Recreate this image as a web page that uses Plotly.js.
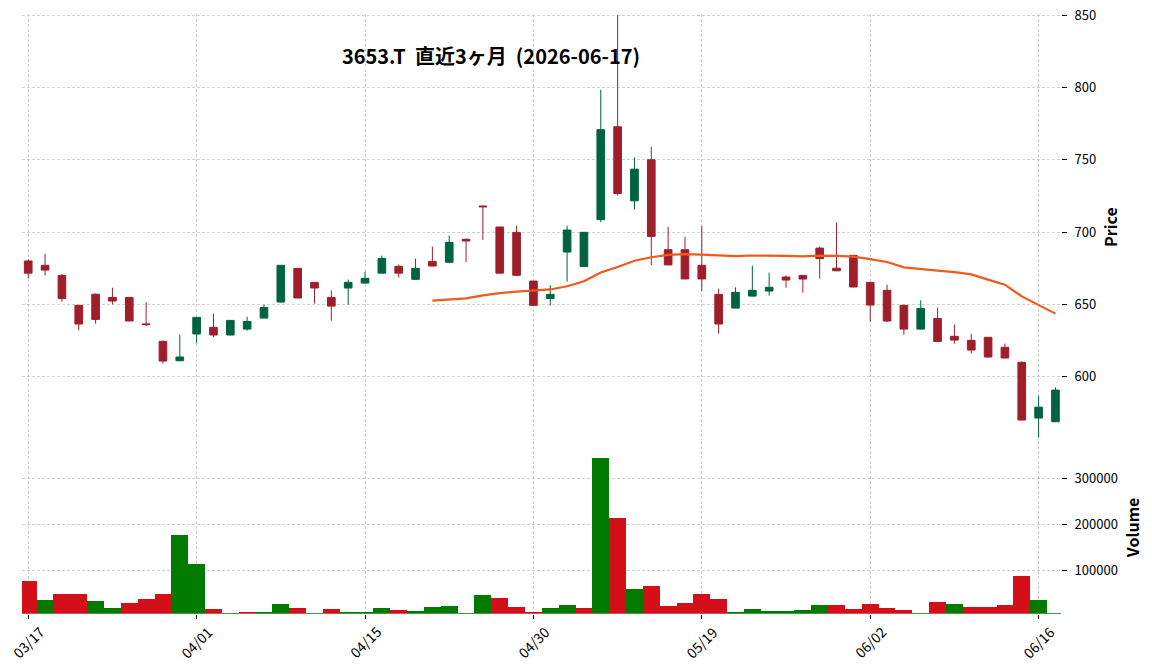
<!DOCTYPE html>
<html>
<head>
<meta charset="utf-8">
<script src="https://cdn.plot.ly/plotly-3.0.1.min.js"></script>
<style>html,body{margin:0;padding:0;background:#fff;}#chart{width:1152px;height:671px;}</style>
</head>
<body>
<div id="chart"></div>
<script>
const dates = ["03/17","03/18","03/19","03/23","03/24","03/25","03/26","03/27","03/30","03/31",
  "04/01","04/02","04/03","04/06","04/07","04/08","04/09","04/10","04/13","04/14",
  "04/15","04/16","04/17","04/20","04/21","04/22","04/23","04/24","04/27","04/28",
  "04/30","05/01","05/07","05/08","05/11","05/12","05/13","05/14","05/15","05/18",
  "05/19","05/20","05/21","05/22","05/25","05/26","05/27","05/28","05/29","06/01",
  "06/02","06/03","06/04","06/05","06/08","06/09","06/10","06/11","06/12","06/15",
  "06/16","06/17"];
const openP = [680,677,670,649.3,657,654.8,654.8,636.5,624.4,611,
  629.5,634.1,628.8,632.9,640.5,651.6,674.9,665.2,654.8,661.3,
  664.7,671.6,676.3,667.3,679.7,679.1,695,718,703.5,699.8,
  666.1,654.1,686.2,676.2,708.6,772.8,721.6,750,687.8,687.8,
  677,656.9,647.4,655.7,659.2,668.9,670,688.9,675,683.9,
  665.2,659.7,649.3,632.9,640.3,627.9,625.1,627.2,620.3,609.9,
  571.4,568.8];
const highP = [681,685,671,649.5,657.5,661.5,655,651.5,625,629,
  641.2,643.6,639,641.5,649.8,677.2,675.1,665.4,659.7,667.1,
  672.6,683.7,677.5,681.6,689.9,697.5,695.5,718.5,703.7,704.4,
  666.3,663.3,704.4,700,798.4,850,751.6,759,703.6,696.8,
  704.2,660.9,661.8,676.8,671.9,670,670.4,689.9,706.7,684.2,
  665.4,663.6,649.8,652.8,647.7,636,629.7,627.5,622.8,610.5,
  586.8,592.6];
const lowP = [668,670,652,632,636.6,650,638.3,635,609,610.8,
  623,627.4,628.7,631.8,640.3,651.2,654.2,650.5,638.7,649.8,
  664.5,671.4,668.5,667.1,676.3,678.4,679.3,694.6,671.4,669.9,
  649.1,649.1,665.7,676,706.8,725.3,715.6,677.2,677.1,667.4,
  659.2,629.7,647.2,655.5,656,661.5,658.1,667.9,673,661.8,
  638,637.8,629,632.7,624.2,622.8,615.9,613.2,612.7,569.8,
  557.8,568.6];
const closeP = [671.6,673.7,654,636.4,639.6,652.3,638.5,636,610.8,613.6,
  641,628.8,638.9,638.2,647.9,677,654.4,661.3,648.8,665.2,
  668,681.8,671.6,674.9,676.5,692.9,693.8,717.5,671.6,670.1,
  649.3,656.9,701.4,699.8,770.8,726.7,743.5,697,677.3,667.6,
  667.6,636.4,658.3,659.7,661.8,666.8,667.5,681.6,673.2,662,
  649.5,638.5,632.9,647.2,624.4,625.3,618.4,613.6,612.9,570,
  578.9,590.7];
const volume = [76700,35400,48500,48500,33300,18000,28900,37600,48500,176700,
  113700,15900,7200,9300,9300,26700,18000,7200,15900,9300,
  9300,18000,13700,11500,20200,22400,7200,46300,39800,20200,
  9300,18000,24600,18000,344100,213700,59300,65900,22400,28900,
  48500,37600,9300,15900,11500,11500,13700,24600,24600,15900,
  26700,18000,13700,7200,31200,26700,20200,20200,24600,87600,
  35400,7200];
const maDates = dates.slice(24);
const ma25 = [652.6,653.3,654.1,656.2,657.8,658.8,659.3,660.3,662.5,666.0,
  672.0,675.8,680.2,682.6,684.2,684.8,684.4,683.8,683.4,683.8,
  683.8,683.6,683.2,683.7,683.5,683.0,681.3,679.3,675.6,674.7,
  673.3,672.3,670.7,667.1,663.6,655.5,649.8,643.6];
const xTicks = ["03/17","04/01","04/15","04/30","05/19","06/02","06/16"];
const priceTicks = [600,650,700,750,800,850];
const volTicks = [100000,200000,300000];
const titleText = "3653.T&nbsp; 直近3ヶ月&nbsp; (2026-06-17)";

const UP = "#006340", DOWN = "#9e1f2b";
const VUP = "#007a00", VDOWN = "#d50f1a";
const volColors = closeP.map((c, i) => {
  const up = i === 0 ? openP[0] < c : closeP[i - 1] < c;
  return up ? VUP : VDOWN;
});

const W = 1152, H = 671;
const FONT = "Noto Sans CJK JP, Noto Sans, sans-serif";
const gridStyle = {showgrid: true, gridcolor: "#c4c4c4", gridwidth: 0.8, griddash: "3px,2px", zeroline: false, showline: false};

const traces = [
  {type: "candlestick", x: dates, open: openP, high: highP, low: lowP, close: closeP,
   xaxis: "x", yaxis: "y", showlegend: false, hoverinfo: "x+y",
   whiskerwidth: 0,
   increasing: {line: {color: UP, width: 1}, fillcolor: UP},
   decreasing: {line: {color: DOWN, width: 1}, fillcolor: DOWN}},
  {type: "scatter", mode: "lines", x: maDates, y: ma25, xaxis: "x", yaxis: "y",
   line: {color: "#f05a1a", width: 2.2}, showlegend: false, hoverinfo: "skip"},
  {type: "bar", x: dates, y: volume, xaxis: "x", yaxis: "y2", width: 1,
   marker: {color: volColors, line: {width: 0}}, showlegend: false}
];

// x tick labels rotated 45° and centred on their tick (as in the reference)
const tickAnnotations = xTicks.map(t => ({
  text: t, x: t, xref: "x", y: 1 - 642 / H, yref: "paper",
  xanchor: "center", yanchor: "middle", textangle: -45, showarrow: false,
  font: {family: FONT, size: 14, color: "#000"}
}));

const layout = {
  width: W, height: H,
  margin: {l: 0, r: 0, t: 0, b: 0, pad: 0},
  paper_bgcolor: "#ffffff", plot_bgcolor: "#ffffff",
  font: {family: FONT, size: 13, color: "#000"},
  boxgap: 0.35,
  bargap: 0,
  title: {text: titleText, x: 491 / W, y: 1 - 57 / H, xanchor: "center", yanchor: "middle",
          font: {family: FONT, size: 20, weight: 700, color: "#000"}},
  annotations: tickAnnotations,
  xaxis: Object.assign({}, gridStyle, {
    type: "category", domain: [22 / W, 1061 / W], range: [-0.37, 61.33],
    anchor: "y2", rangeslider: {visible: false},
    tickmode: "array", tickvals: xTicks, showticklabels: false,
    ticks: "outside", ticklen: 4, tickcolor: "#000", tickwidth: 1
  }),
  yaxis: Object.assign({}, gridStyle, {
    domain: [1 - 440 / H, 1 - 14 / H], range: [556.2, 850.8], anchor: "x", side: "right",
    tickmode: "array", tickvals: priceTicks, ticks: "outside", ticklen: 5, tickcolor: "#000", tickwidth: 1,
    ticklabelstandoff: 5,
    tickfont: {family: FONT, size: 13, color: "#000"},
    title: {text: "Price", font: {family: FONT, size: 16, weight: 700, color: "#000"}}
  }),
  yaxis2: Object.assign({}, gridStyle, {
    domain: [1 - 613.7 / H, 1 - 441 / H], range: [5650, 381000], anchor: "x", side: "right",
    tickmode: "array", tickvals: volTicks, ticks: "outside", ticklen: 5, tickcolor: "#000", tickwidth: 1,
    ticklabelstandoff: 5,
    tickformat: "d",
    tickfont: {family: FONT, size: 13, color: "#000"},
    title: {text: "Volume", font: {family: FONT, size: 16, weight: 700, color: "#000"}}
  })
};

Plotly.newPlot("chart", traces, layout, {displayModeBar: false, staticPlot: true});
</script>
</body>
</html>
